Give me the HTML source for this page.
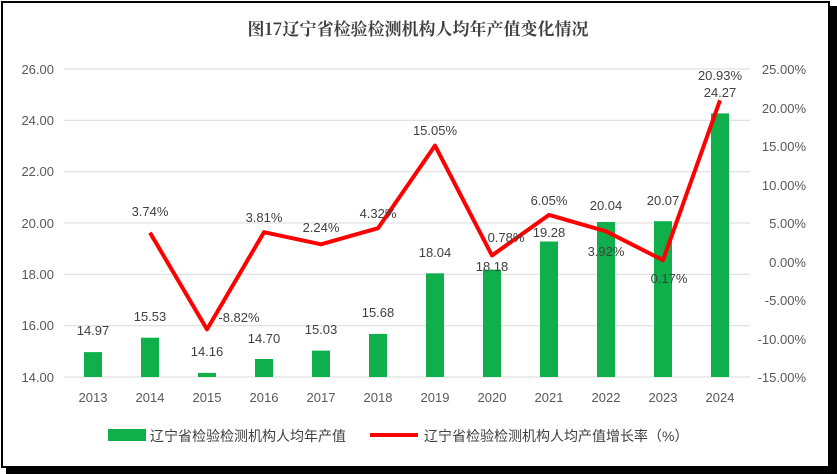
<!DOCTYPE html>
<html><head><meta charset="utf-8"><style>
body{margin:0;background:#fff;}
svg{display:block;font-family:"Liberation Sans","Noto Sans CJK SC",sans-serif;}
</style></head><body>
<svg width="837" height="474" viewBox="0 0 837 474">
<rect x="0" y="0" width="837" height="474" fill="#fff"/>
<rect x="6" y="6" width="831" height="468" fill="#000"/>
<rect x="2" y="2" width="827" height="465" fill="#fff" stroke="#000" stroke-width="2"/>
<text x="418" y="35" text-anchor="middle" font-size="17" font-weight="bold" fill="#404040" font-family="'Noto Serif CJK SC','Noto Sans CJK SC',serif">图17辽宁省检验检测机构人均年产值变化情况</text>
<g stroke="#d9d9d9" stroke-width="1">
<line x1="64" x2="750" y1="69" y2="69"/><line x1="64" x2="750" y1="120.3" y2="120.3"/>
<line x1="64" x2="750" y1="171.7" y2="171.7"/><line x1="64" x2="750" y1="223" y2="223"/>
<line x1="64" x2="750" y1="274.3" y2="274.3"/><line x1="64" x2="750" y1="325.7" y2="325.7"/>
<line x1="64" x2="750" y1="377" y2="377"/>
</g>
<g font-size="13" fill="#595959" text-anchor="end">
<text x="54" y="74">26.00</text><text x="54" y="125">24.00</text><text x="54" y="176">22.00</text>
<text x="54" y="228">20.00</text><text x="54" y="279">18.00</text><text x="54" y="330">16.00</text><text x="54" y="382">14.00</text>
</g>
<g font-size="13" fill="#595959" text-anchor="end">
<text x="806" y="74">25.00%</text><text x="806" y="113">20.00%</text><text x="806" y="151">15.00%</text>
<text x="806" y="190">10.00%</text><text x="806" y="228">5.00%</text><text x="806" y="267">0.00%</text>
<text x="806" y="305">-5.00%</text><text x="806" y="344">-10.00%</text><text x="806" y="382">-15.00%</text>
</g>
<g fill="#0fb04b">
<rect x="84" y="352.1" width="18" height="24.9"/><rect x="141" y="337.7" width="18" height="39.3"/>
<rect x="198" y="372.9" width="18" height="4.1"/><rect x="255" y="359" width="18" height="18"/>
<rect x="312" y="350.6" width="18" height="26.4"/><rect x="369" y="333.9" width="18" height="43.1"/>
<rect x="426" y="273.3" width="18" height="103.7"/><rect x="483" y="269.7" width="18" height="107.3"/>
<rect x="540" y="241.5" width="18" height="135.5"/><rect x="597" y="222" width="18" height="155"/>
<rect x="654" y="221.2" width="18" height="155.8"/><rect x="711" y="113.4" width="18" height="263.6"/>
</g>
<g font-size="13" fill="#595959" text-anchor="middle">
<text x="93" y="402">2013</text><text x="150" y="402">2014</text><text x="207" y="402">2015</text>
<text x="264" y="402">2016</text><text x="321" y="402">2017</text><text x="378" y="402">2018</text>
<text x="435" y="402">2019</text><text x="492" y="402">2020</text><text x="549" y="402">2021</text>
<text x="606" y="402">2022</text><text x="663" y="402">2023</text><text x="720" y="402">2024</text>
</g>
<g font-size="13" fill="#404040" text-anchor="middle">
<text x="93" y="335">14.97</text><text x="150" y="321">15.53</text><text x="207" y="356">14.16</text>
<text x="264" y="343">14.70</text><text x="321" y="334">15.03</text><text x="378" y="317">15.68</text>
<text x="435" y="257">18.04</text><text x="492" y="271">18.18</text><text x="549" y="237">19.28</text>
<text x="606" y="210">20.04</text><text x="663" y="205">20.07</text><text x="720" y="97">24.27</text>
</g>
<polyline fill="none" stroke="#ff0000" stroke-width="4" stroke-linejoin="round" points="150,232.7 207,329.4 264,232.2 321,244.3 378,228.2 435,145.6 492,255.5 549,214.9 606,231.3 663,260.2 720,100.3"/>
<g font-size="13" fill="#404040" text-anchor="middle">
<text x="150" y="216">3.74%</text><text x="239" y="322">-8.82%</text><text x="264" y="222">3.81%</text>
<text x="321" y="232">2.24%</text><text x="378" y="218">4.32%</text><text x="435" y="135">15.05%</text>
<text x="506" y="242">0.78%</text><text x="549" y="205">6.05%</text><text x="606" y="256">3.92%</text>
<text x="669" y="283">0.17%</text><text x="720" y="80">20.93%</text>
</g>
<g font-size="14" fill="#404040">
<rect x="108" y="429" width="38" height="12" fill="#0fb04b"/>
<text x="150" y="441">辽宁省检验检测机构人均年产值</text>
<line x1="370" x2="418" y1="435" y2="435" stroke="#ff0000" stroke-width="4"/>
<text x="424" y="441">辽宁省检验检测机构人均产值增长率（%）</text>
</g>
</svg>
</body></html>
